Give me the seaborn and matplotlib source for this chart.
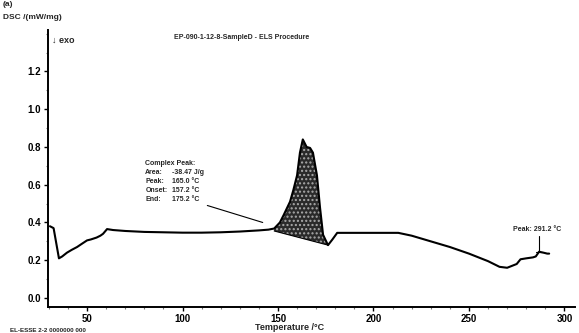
import numpy as np
import pandas as pd
import matplotlib
matplotlib.use("Agg")
import matplotlib.pyplot as plt
import seaborn as sns
from matplotlib.ticker import MultipleLocator

# ---- data ----
temps = [30.6, 32.5, 35.3, 37.0, 39.5, 42.0, 44.8, 47.0, 50.0, 52.0, 55.0, 57.0,
         58.4, 60.5, 63.6, 70.0, 80.0, 90.0, 100.0, 110.0, 120.0, 130.0, 140.0,
         145.0, 148.0, 151.0, 153.0, 156.3, 158.0, 160.0, 161.5, 163.0, 165.0,
         166.8, 168.3, 170.4, 172.0, 173.6, 175.7, 176.2, 178.5, 181.0, 190.0,
         200.0, 213.0, 220.0, 230.0, 240.0, 250.0, 260.0, 266.0, 270.0, 275.0,
         277.0, 280.0, 283.5, 285.0, 286.7, 289.0, 291.0, 292.0]
dsc = [0.38, 0.37, 0.21, 0.22, 0.24, 0.255, 0.27, 0.285, 0.305, 0.31, 0.32, 0.33,
       0.34, 0.365, 0.36, 0.355, 0.35, 0.348, 0.346, 0.346, 0.348, 0.352, 0.358,
       0.362, 0.368, 0.40, 0.44, 0.51, 0.57, 0.65, 0.77, 0.84, 0.80,
       0.795, 0.77, 0.65, 0.48, 0.335, 0.29, 0.28, 0.31, 0.345, 0.345,
       0.345, 0.345, 0.33, 0.30, 0.27, 0.235, 0.195, 0.165, 0.16, 0.18,
       0.205, 0.21, 0.215, 0.22, 0.245, 0.24, 0.235, 0.235]

peak_start, peak_end = 148.0, 176.2
base_start_val, base_end_val = 0.355, 0.28

peak_labels = ["Area:", "Peak:", "Onset:", "End:"]
peak_values = ["-38.47 J/g", "165.0 \u00b0C", "157.2 \u00b0C", "175.2 \u00b0C"]

x_ticks = [50, 100, 150, 200, 250, 300]
y_ticks = [0.0, 0.2, 0.4, 0.6, 0.8, 1.0, 1.2]

df = pd.DataFrame({"Temperature": temps, "DSC": dsc})

sns.set_theme(style="white")
plt.rcParams["font.family"] = ["Liberation Sans", "DejaVu Sans"]
plt.rcParams["font.weight"] = "bold"

fig = plt.figure(figsize=(5.79, 3.33), dpi=100)
ax = fig.add_axes([0.083, 0.078, 0.910, 0.832])

sns.lineplot(data=df, x="Temperature", y="DSC", ax=ax, color="black",
             linewidth=1.5, estimator=None)

# hatched integrated peak
t = np.array(temps)
v = np.array(dsc)
mask = (t >= peak_start) & (t <= peak_end)
tb = t[mask]
base = base_start_val + (tb - peak_start) / (peak_end - peak_start) * (base_end_val - base_start_val)
ax.fill_between(tb, base, v[mask], facecolor="#2a2a2a", edgecolor="#aaaaaa",
                hatch="....", linewidth=0, zorder=1)
ax.plot([peak_start, peak_end], [base_start_val, base_end_val], color="black", lw=0.8)

ax.set_xlim(29.6, 305.5)
ax.set_ylim(-0.048, 1.42)
ax.set_xticks(x_ticks)
ax.set_xticklabels([str(x) for x in x_ticks])
ax.set_yticks(y_ticks)
ax.set_yticklabels([f"{y:.1f}" for y in y_ticks])
ax.xaxis.set_minor_locator(MultipleLocator(10))
ax.yaxis.set_minor_locator(MultipleLocator(0.1))
ax.tick_params(axis="both", which="major", direction="out", length=3, width=1,
               labelsize=7, pad=2, bottom=True, left=True, colors="black")
ax.tick_params(axis="both", which="minor", direction="out", length=1.5, width=0.8,
               bottom=True, left=True, colors="#777777")
for lab in ax.get_xticklabels() + ax.get_yticklabels():
    lab.set_fontweight("bold")
for s in ["top", "right"]:
    ax.spines[s].set_visible(False)
for s in ["left", "bottom"]:
    ax.spines[s].set_color("black")
    ax.spines[s].set_linewidth(1.4)
ax.set_xlabel("")
ax.set_ylabel("")

# complex peak annotation
tx, ty = 80.5, 0.715
ax.text(tx, ty, "Complex Peak:", fontsize=5, fontweight="bold", va="center")
for i, (lab, val) in enumerate(zip(peak_labels, peak_values)):
    yy = ty - 0.048 * (i + 1)
    ax.text(tx, yy, lab, fontsize=5, fontweight="bold", va="center")
    ax.text(tx + 14, yy, val, fontsize=5, fontweight="bold", va="center")
ax.plot([113, 142], [0.49, 0.40], color="black", lw=0.8)

# right peak marker
ax.plot([286.7, 286.7], [0.33, 0.245], color="black", lw=0.8)
ax.plot([285.2, 288.2], [0.245, 0.245], color="black", lw=0.8)
ax.text(285.5, 0.345, "Peak: 291.2 \u00b0C", fontsize=5, fontweight="bold",
        ha="center", va="bottom")

# figure texts
fig.text(0.005, 0.998, "(a)", fontsize=6, fontweight="bold", va="top", ha="left")
fig.text(0.005, 0.948, "DSC /(mW/mg)", fontsize=6, fontweight="bold", va="center")
fig.text(0.09, 0.88, "\u2193 exo", fontsize=6.5, fontweight="bold", va="center")
fig.text(0.418, 0.886, "EP-090-1-12-8-SampleD - ELS Procedure", fontsize=5,
         fontweight="bold", ha="center", va="center")
fig.text(0.50, 0.018, "Temperature /\u00b0C", fontsize=6.5, fontweight="bold",
         ha="center", va="center")
fig.text(0.018, 0.008, "EL-ESSE 2-2 0000000 000", fontsize=4.5, fontweight="bold",
         ha="left", va="center")

fig.savefig("out.png", dpi=100, facecolor="white")
